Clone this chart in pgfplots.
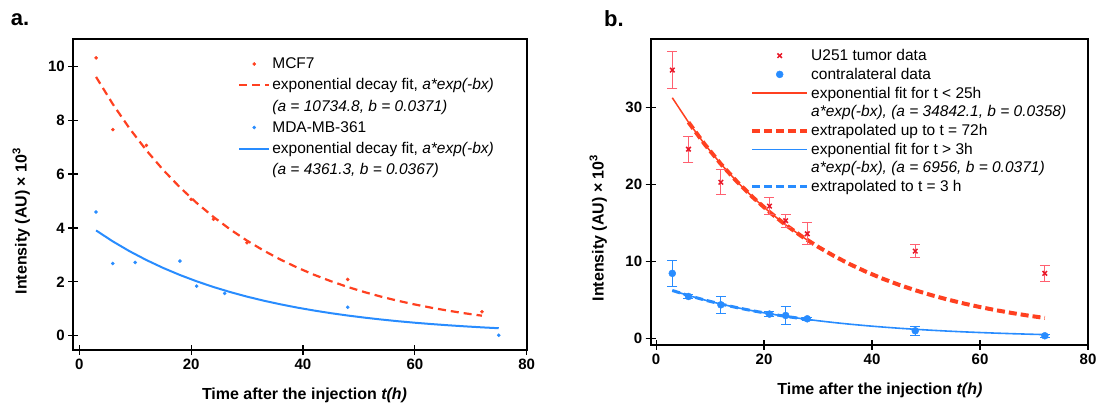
\documentclass[border=0pt]{standalone}
\usepackage{fontspec}
\setmainfont{Liberation Sans}
\usepackage{pgfplots}
\pgfplotsset{compat=1.18}
\definecolor{fitred}{RGB}{255,64,32}
\definecolor{datred}{RGB}{232,24,40}
\definecolor{errred}{RGB}{255,96,112}
\definecolor{myblue}{RGB}{40,140,255}
\pgfplotsset{
  legA/.style={legend image code/.code={\draw[##1] (0pt,0pt) -- (30pt,0pt);}},
  legAm/.style={legend image code/.code={\draw[##1] plot coordinates {(15pt,0pt)};}},
  legB/.style={legend image code/.code={\draw[##1] (0pt,0pt) -- (55pt,0pt);}},
  legBm/.style={legend image code/.code={\draw[##1] plot coordinates {(27.5pt,0pt)};}},
  mycommon/.style={
    scale only axis, anchor=south west,
    axis background/.style={draw=black, line width=2pt},
    axis line style={line width=2pt, draw=black},
    tick style={line width=1.2pt, draw=black},
    tick align=center, major tick length=10pt,
    xtick pos=bottom, ytick pos=left,
    /pgf/number format/assume math mode=true,
    ticklabel style={font=\bfseries\fontsize{15}{15}\selectfont},
    label style={font=\bfseries\fontsize{16}{16}\selectfont},
    legend cell align=left,
  },
}
\begin{document}
\begin{tikzpicture}
\path (0,0) rectangle (1103pt,409pt);
% frames and tick marks drawn first, beneath the axes
\draw[line width=2pt, black] (73.3pt,59pt) rectangle (526.7pt,369.7pt);
\draw[line width=2pt, black] (650.7pt,64pt) rectangle (1088pt,369.7pt);
\foreach \x in {79.28,191.14,303.0,414.86,526.7}
  \draw[line width=1.2pt, black] (\x pt,54pt) -- (\x pt,64pt);
\foreach \y in {73.28,127.18,181.07,234.96,288.85,342.75}
  \draw[line width=1.2pt, black] (68.3pt,\y pt) -- (78.3pt,\y pt);
\foreach \x in {656.1,764.07,872.05,980.02,1088}
  \draw[line width=1.2pt, black] (\x pt,59pt) -- (\x pt,69pt);
\foreach \y in {70.69,147.55,224.42,301.29}
  \draw[line width=1.2pt, black] (645.7pt,\y pt) -- (655.7pt,\y pt);
\node[font=\bfseries\fontsize{22}{22}\selectfont] at (20pt,389pt) {a.};
\node[font=\bfseries\fontsize{22}{22}\selectfont] at (614pt,390pt) {b.};
% ---------------- panel a ----------------
\begin{axis}[mycommon,
  at={(73.3pt,59pt)}, width=453.4pt, height=310.7pt,
  xmin=-1.07, xmax=80, ymin=-0.53, ymax=11.0,
  xtick={0,20,40,60,80}, ytick={0,2,4,6,8,10},
  xlabel={Time after the injection \textit{t(h)}},
  ylabel={Intensity (AU) × 10\textsuperscript{3}},
  xlabel style={at={(axis description cs:0.51,-0.145)}, anchor=center},
  ylabel style={at={(axis description cs:-0.115,0.415)}, anchor=center},
  legend style={at={(0.3566,0.954)}, anchor=north west, draw=none, fill=none,
    row sep=4.6pt, font=\fontsize{15.5}{18}\selectfont},
]
\addplot[fitred, line width=2.2pt, dash pattern=on 8pt off 5pt, forget plot] coordinates {
(3,9.604) (6,8.593) (9,7.688) (12,6.878) (15,6.153) (18,5.505) (21,4.925) (24,4.407)
(27,3.942) (30,3.527) (33,3.156) (36,2.823) (39,2.526) (42,2.260) (45,2.022) (48,1.809)
(51,1.618) (54,1.448) (57,1.295) (60,1.159) (63,1.037) (66,0.928) (69,0.830) (72,0.743)};
\addplot[myblue, line width=2pt, forget plot] coordinates {
(3,3.907) (6,3.499) (9,3.134) (12,2.808) (15,2.515) (18,2.253) (21,2.018) (24,1.807)
(27,1.619) (30,1.450) (33,1.299) (36,1.164) (39,1.042) (42,0.934) (45,0.836) (48,0.749)
(51,0.671) (54,0.601) (57,0.538) (60,0.482) (63,0.432) (66,0.387) (69,0.347) (72,0.310) (75,0.278)};
\addplot[only marks, mark=*, mark size=1.6pt, fitred, forget plot] coordinates {
(3,10.31) (6,7.65) (12,7.06) (20,5.06) (24,4.32) (30,3.45) (48,2.09) (72,0.89)};
\addplot[only marks, mark=*, mark size=1.6pt, myblue, forget plot] coordinates {
(3,4.59) (6,2.68) (10,2.72) (18,2.77) (21,1.84) (26,1.57) (48,1.06) (75,0.02)};
\addlegendimage{only marks, mark=*, mark size=1.6pt, fitred, legAm}
\addlegendentry{MCF7}
\addlegendimage{fitred, line width=2.2pt, dash pattern=on 8pt off 5pt, legA}
\addlegendentry{exponential decay fit, \textit{a*exp(-bx)}}
\addlegendimage{empty legend}
\addlegendentry{\textit{(a = 10734.8, b = 0.0371)}}
\addlegendimage{only marks, mark=*, mark size=1.6pt, myblue, legAm}
\addlegendentry{MDA-MB-361}
\addlegendimage{myblue, line width=2pt, legA}
\addlegendentry{exponential decay fit, \textit{a*exp(-bx)}}
\addlegendimage{empty legend}
\addlegendentry{\textit{(a = 4361.3, b = 0.0367)}}
\end{axis}
% ---------------- panel b ----------------
\begin{axis}[mycommon,
  at={(650.7pt,64pt)}, width=437.3pt, height=305.7pt,
  xmin=-1, xmax=80, ymin=-0.87, ymax=38.9,
  xtick={0,20,40,60,80}, ytick={0,10,20,30},
  xlabel={Time after the injection \textit{t(h)}},
  ylabel={Intensity (AU) × 10\textsuperscript{3}},
  xlabel style={at={(axis description cs:0.524,-0.147)}, anchor=center},
  ylabel style={at={(axis description cs:-0.12,0.383)}, anchor=center},
  legend style={at={(0.2202,0.981)}, anchor=north west, draw=none, fill=none,
    row sep=2pt, font=\fontsize{15.5}{18}\selectfont},
]
\addplot[fitred, line width=4pt, dash pattern=on 8pt off 4pt, forget plot] coordinates {
(6,28.108) (9,25.245) (12,22.675) (15,20.366) (18,18.292) (21,16.429) (24,14.756)
(27,13.254) (30,11.904) (33,10.692) (36,9.603) (39,8.625) (42,7.747) (45,6.958) (48,6.250)
(51,5.613) (54,5.042) (57,4.528) (60,4.067) (63,3.653) (66,3.281) (69,2.947) (72,2.647)};
\addplot[fitred, line width=1.5pt, forget plot] coordinates {
(3,31.294) (6,28.108) (9,25.245) (12,22.675) (15,20.366) (18,18.292) (21,16.429) (24,14.756)
(27,13.254) (28,12.787)};
\addplot[myblue, line width=3pt, dash pattern=on 8pt off 4pt, forget plot] coordinates {
(3,6.223) (6,5.568) (9,4.981) (12,4.457) (15,3.987) (18,3.567) (21,3.191) (24,2.855) (27,2.555) (28,2.464)};
\addplot[myblue, line width=1.6pt, forget plot] coordinates {
(3,6.223) (6,5.568) (9,4.981) (12,4.457) (15,3.987) (18,3.567) (21,3.191) (24,2.855)
(27,2.555) (30,2.286) (33,2.045) (36,1.829) (39,1.637) (42,1.464) (45,1.310) (48,1.172)
(51,1.049) (54,0.938) (57,0.839) (60,0.751) (63,0.672) (66,0.601) (69,0.538) (72,0.481)};
\addplot[only marks, mark=x, mark size=3.2pt, datred, line width=1.5pt, forget plot,
  error bars/.cd, y dir=both, y explicit,
  error bar style={errred, line width=1pt},
  error mark options={errred, rotate=90, mark size=5pt, line width=1pt}]
  table[x=t, y=v, y error=e] {
t v e
3 34.9 2.45
6 24.6 1.7
12 20.3 1.6
21 17.2 1.15
24 15.3 0.87
28 13.6 1.45
48 11.35 0.8
72 8.45 1.0
};
\addplot[only marks, mark=*, mark size=3.5pt, myblue, forget plot,
  error bars/.cd, y dir=both, y explicit,
  error bar style={myblue, line width=1pt},
  error mark options={myblue, rotate=90, mark size=5pt, line width=1pt}]
  table[x=t, y=v, y error=e] {
t v e
3 8.45 1.7
6 5.44 0.3
12 4.36 1.08
21 3.15 0.3
24 2.97 1.17
28 2.54 0.2
48 0.98 0.58
72 0.33 0.2
};
\addlegendimage{only marks, mark=x, mark size=3.2pt, datred, line width=1.5pt, legBm}
\addlegendentry{U251 tumor data}
\addlegendimage{only marks, mark=*, mark size=3.5pt, myblue, legBm}
\addlegendentry{contralateral data}
\addlegendimage{fitred, line width=1.5pt, legB}
\addlegendentry{exponential fit for t < 25h}
\addlegendimage{empty legend}
\addlegendentry{\textit{a*exp(-bx), (a = 34842.1, b = 0.0358)}}
\addlegendimage{fitred, line width=4pt, dash pattern=on 8pt off 4pt, legB}
\addlegendentry{extrapolated up to t = 72h}
\addlegendimage{myblue, line width=1.6pt, legB}
\addlegendentry{exponential fit for t > 3h}
\addlegendimage{empty legend}
\addlegendentry{\textit{a*exp(-bx), (a = 6956, b = 0.0371)}}
\addlegendimage{myblue, line width=3pt, dash pattern=on 8pt off 4pt, legB}
\addlegendentry{extrapolated to t = 3 h}
\end{axis}
\end{tikzpicture}
\end{document}
